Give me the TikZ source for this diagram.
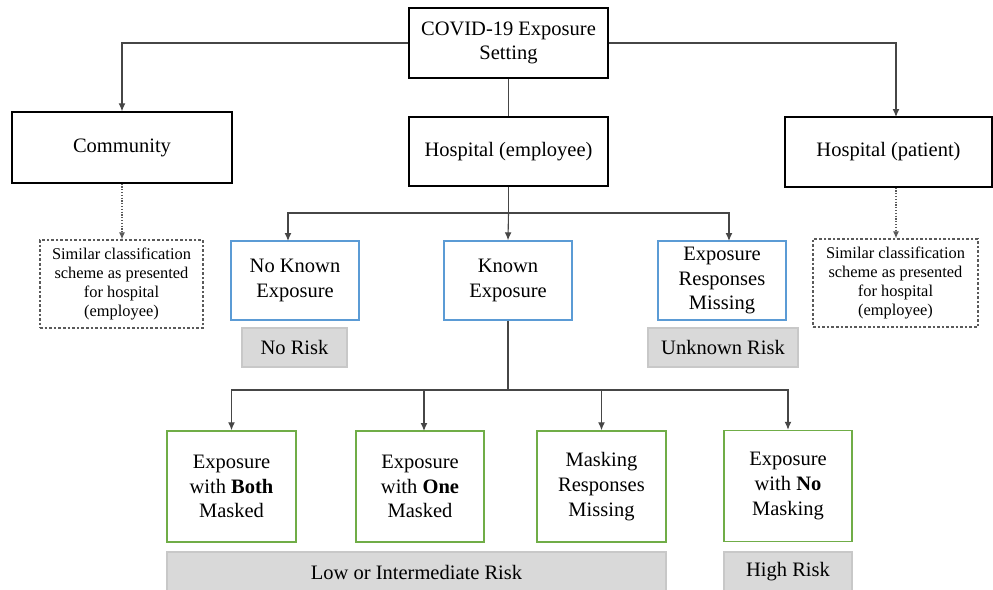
\documentclass[tikz,border=0pt]{standalone}
\usepackage{fontspec}
\setmainfont{Liberation Serif}
\usetikzlibrary{arrows.meta,calc}
\definecolor{bluebd}{RGB}{91,155,213}
\definecolor{greenbd}{RGB}{112,173,71}
\definecolor{grayfill}{RGB}{217,217,217}
\definecolor{graybd}{RGB}{200,200,200}
\definecolor{linec}{RGB}{70,70,70}
\definecolor{dashc}{RGB}{90,90,90}
\begin{document}
\begin{tikzpicture}[x=0.5pt,y=-0.5pt,
  every node/.style={font=\fontsize{10.25}{12.4}\selectfont, align=center, inner sep=1pt},
  blackbox/.style={draw=black, line width=0.6pt, rectangle},
  bluebox/.style={draw=bluebd, line width=0.7pt, rectangle},
  greenbox/.style={draw=greenbd, line width=0.7pt, rectangle},
  riskbox/.style={fill=grayfill, draw=graybd, line width=0.6pt, rectangle},
  dashbox/.style={draw=dashc, line width=0.6pt, dash pattern=on 1.3pt off 1pt, rectangle,
     font=\fontsize{8.2}{9.6}\selectfont},
  conn/.style={draw=linec, line width=0.55pt},
  arr/.style={conn, -{Latex[length=4pt,width=3.4pt]}},
  dotarr/.style={draw=dashc, line width=0.55pt, dash pattern=on 0.6pt off 0.8pt, -{Latex[length=3.5pt,width=3pt]}}
]
\useasboundingbox (0,0) rectangle (993,590);

% top level
\node[blackbox, minimum width=99.5pt, minimum height=35pt] (top) at (508.5,43) {COVID-19 Exposure\\Setting};
\node[blackbox, minimum width=110pt, minimum height=35.5pt] (comm) at (122,147.5) {Community};
\node[blackbox, minimum width=99.5pt, minimum height=34.5pt] (hemp) at (508.5,151.5) {Hospital (employee)};
\node[blackbox, minimum width=103.5pt, minimum height=35pt] (hpat) at (888.5,152) {Hospital (patient)};

% dashed boxes
\node[dashbox, minimum width=81.5pt, minimum height=44pt] (dash1) at (121.5,284) {Similar classification\\scheme as presented\\for hospital\\(employee)};
\node[dashbox, minimum width=82.5pt, minimum height=44pt] (dash2) at (895.5,283) {Similar classification\\scheme as presented\\for hospital\\(employee)};

% blue boxes
\node[bluebox, minimum width=64pt, minimum height=39.5pt] (nke) at (295,280.5) {No Known\\Exposure};
\node[bluebox, minimum width=64pt, minimum height=39.5pt] (ke) at (508,280.5) {Known\\Exposure};
\node[bluebox, minimum width=64pt, minimum height=39.5pt] (erm) at (722,280.5) {Exposure\\Responses\\Missing};

\node[riskbox, minimum width=52.5pt, minimum height=19.5pt] (norisk) at (294.5,347.5) {No Risk};
\node[riskbox, minimum width=75pt, minimum height=19.5pt] (unkrisk) at (723,347.5) {Unknown Risk};

% green boxes
\node[greenbox, minimum width=64.5pt, minimum height=55.5pt] (g1) at (231.5,486.5) {Exposure\\with \textbf{Both}\\Masked};
\node[greenbox, minimum width=64pt, minimum height=55.5pt] (g2) at (420,486.5) {Exposure\\with \textbf{One}\\Masked};
\node[greenbox, minimum width=64.5pt, minimum height=55.5pt] (g3) at (601.5,486.5) {Masking\\Responses\\Missing};
\node[greenbox, minimum width=64pt, minimum height=55.5pt] (g4) at (788,486) {Exposure\\with \textbf{No}\\Masking};

\node[riskbox, minimum width=249.5pt, minimum height=20pt] (low) at (416.5,572) {Low or Intermediate Risk};
\node[riskbox, minimum width=64pt, minimum height=20pt] (high) at (788,572) {High Risk};

% connectors level 1
\coordinate (pa) at (896,117);
\draw[arr] (top.west) -| (comm.north);
\draw[arr] (top.east) -| (pa);
\draw[conn] (top.south) -- (hemp.north);

% dotted
\draw[dotarr] (comm.south) -- (dash1.north -| comm.south);
\draw[dotarr] (pa |- hpat.south) -- (pa |- dash2.north);

% level 2
\coordinate (j2) at (508.5,213);
\coordinate (a1) at (288,241);
\coordinate (a3) at (729,241);
\draw[conn] (hemp.south) -- (j2);
\draw[arr] (j2) -| (a1);
\draw[arr] (j2) -| (a3);
\draw[arr] (j2) -- (ke.north);

% level 3
\coordinate (j3) at (508,390);
\coordinate (b2) at (424,431);
\draw[conn] (ke.south) -- (j3);
\draw[arr] (j3) -| (g1.north);
\draw[arr] (j3) -| (b2);
\draw[arr] (j3) -| (g3.north);
\draw[arr] (j3) -| (g4.north);
\end{tikzpicture}
\end{document}
